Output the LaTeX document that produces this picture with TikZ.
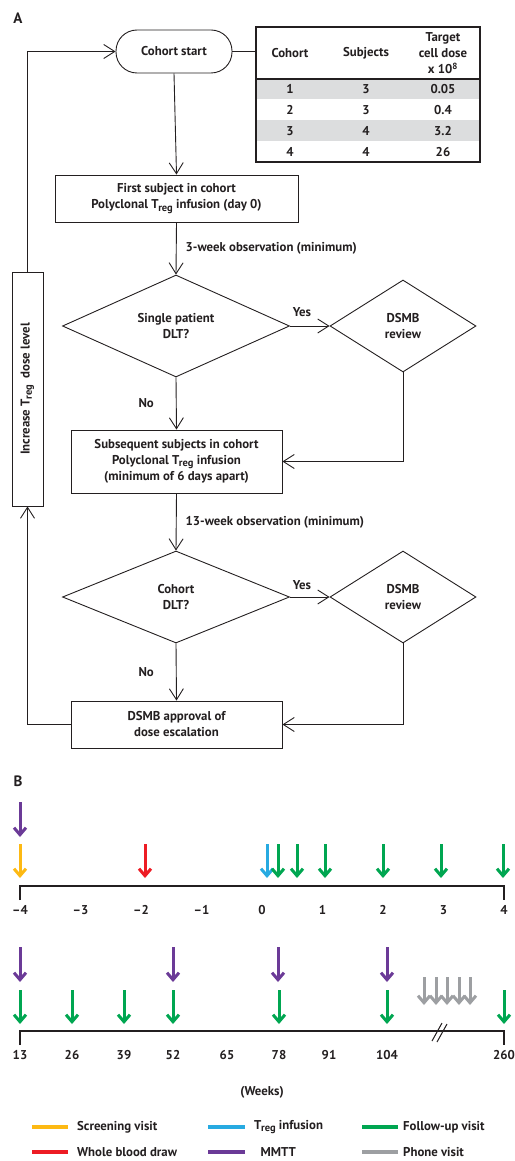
\documentclass[tikz,border=0pt]{standalone}
\usepackage{fontspec}
\setmainfont{PT Sans}
\usetikzlibrary{arrows.meta,shapes.geometric}
\definecolor{cyel}{HTML}{FDB913}
\definecolor{cred}{HTML}{ED1C24}
\definecolor{cblu}{HTML}{27AAE1}
\definecolor{cgrn}{HTML}{00A651}
\definecolor{cpur}{HTML}{6B3A97}
\definecolor{cgry}{HTML}{9D9FA2}
\definecolor{tgray}{HTML}{DCDDDE}
\definecolor{ink}{HTML}{231F20}
\newcommand{\Treg}{T\kern-0.03em\raisebox{-0.35ex}{\fontsize{10.5}{11}\selectfont reg}}
\begin{document}
\begin{tikzpicture}[x=1pt,y=-1pt,
  font=\bfseries\fontsize{12.8}{16}\selectfont, color=ink,
  box/.style={draw=ink, line width=0.9pt, align=center, inner sep=2pt},
  dia/.style={diamond, draw=ink, line width=0.9pt, align=center, inner sep=0pt},
  flow/.style={line width=0.9pt, draw=ink, -{Straight Barb[length=11pt,width=14pt]}},
  plainline/.style={line width=0.9pt, draw=ink},
  tlline/.style={line width=1.3pt, draw=ink},
  evarrow/.style={line width=3pt, -{Straight Barb[length=7pt,width=12pt]}},
  gyarrow/.style={line width=3pt, draw=cgry, -{Straight Barb[length=7pt,width=12pt]}},
  swatch/.style={line width=4pt},
  lbl/.style={inner sep=1pt}
]
\useasboundingbox (0,0) rectangle (514,1161);

% ---------- Panel A ----------
\node[lbl, font=\bfseries\fontsize{15}{16}\selectfont] (labA) at (18,18) {A};

\node[box, rounded corners=21pt, minimum width=116pt, minimum height=43pt] (cs) at (174,51.5) {Cohort start};

% table
\fill[tgray] (256,79) rectangle (480,99);
\fill[tgray] (256,120) rectangle (480,141);
\node[draw=ink, line width=1.4pt, minimum width=224pt, minimum height=135pt, inner sep=0pt] (tab) at (368,94.5) {};
\draw[line width=1.4pt, draw=ink] (tab.west |- 0,79) -- (tab.east |- 0,79);
\node[lbl] (h1) at (290,53) {Cohort};
\node[lbl] (h2) at (366,53) {Subjects};
\node[lbl, align=center] (h3) at (443,53) {Target\\cell dose\\x 10\textsuperscript{8}};
\node[lbl] (r11) at (290,89) {1};   \node[lbl] (r12) at (366,89) {3};   \node[lbl] (r13) at (443,89) {0.05};
\node[lbl] (r21) at (290,110) {2};  \node[lbl] (r22) at (366,110) {3};  \node[lbl] (r23) at (443,110) {0.4};
\node[lbl] (r31) at (290,131) {3};  \node[lbl] (r32) at (366,131) {4};  \node[lbl] (r33) at (443,131) {3.2};
\node[lbl] (r41) at (290,152) {4};  \node[lbl] (r42) at (366,152) {4};  \node[lbl] (r43) at (443,152) {26};

\node[box, minimum width=243pt, minimum height=47pt] (fs) at (176.5,198.5)
  {First subject in cohort\\Polyclonal \Treg{} infusion (day 0)};
\node[dia, minimum width=227pt, minimum height=92pt] (d1) at (176,326) {Single patient\\DLT?};
\node[dia, minimum width=146pt, minimum height=92pt] (r1) at (403,326) {DSMB\\review};
\node[box, minimum width=211pt, minimum height=63pt] (sub) at (176.5,461.5)
  {Subsequent subjects in cohort\\Polyclonal \Treg{} infusion\\(minimum of 6 days apart)};
\node[dia, minimum width=227pt, minimum height=92pt] (d2) at (176,597) {Cohort\\DLT?};
\node[dia, minimum width=146pt, minimum height=92pt] (r2) at (403,597) {DSMB\\review};
\node[box, minimum width=211pt, minimum height=47pt] (app) at (176.5,724.5)
  {DSMB approval of\\dose escalation};
\node[box, rotate=90, minimum width=234pt, minimum height=31pt] (inc) at (27.5,389)
  {Increase \Treg{}\ \ dose level};

\draw[plainline] (cs.east) -- (cs.east -| tab.west);
\draw[flow] (cs.south) -- (fs.north);
\draw[flow] (fs.south) -- node[lbl, anchor=west, xshift=8pt] {3-week observation (minimum)} (d1.north);
\draw[flow] (d1.east) -- node[lbl, pos=0.3, above=8pt] {Yes} (r1.west);
\draw[flow] (d1.south) -- node[lbl, left=21pt] {No} (sub.north);
\draw[flow] (r1.south) |- (sub.east);
\draw[flow] (sub.south) -- node[lbl, anchor=west, xshift=8pt] {13-week observation (minimum)} (d2.north);
\draw[flow] (d2.east) -- node[lbl, pos=0.3, above=6pt] {Yes} (r2.west);
\draw[flow] (d2.south) -- node[lbl, left=21pt] {No} (app.north);
\draw[flow] (r2.south) |- (app.east);
\draw[flow] (app.west) -| (inc.west);
\draw[flow] (inc.east) |- (cs.west);

% ---------- Panel B ----------
\node[lbl, font=\bfseries\fontsize{15}{16}\selectfont] (labB) at (18,781) {B};

% timeline 1
\draw[tlline] (20,900) -- (20,886) -- (504,886) -- (504,900);
\foreach \w/\t in {-4/\textendash4,-3/\textendash3,-2/\textendash2,-1/\textendash1,0/0,1/1,2/2,3/3,4/4}
  \node[lbl] at ({20+(\w+4)*60.5},910) {\t};
\draw[evarrow, cpur] (20,802) -- (20,837);
\draw[evarrow, cyel] (20,844) -- (20,878);
\draw[evarrow, cred] (145,844) -- (145,878);
\draw[evarrow, cblu] (267,844) -- (267,878);
\foreach \x in {278,297,325,383,441,503}
  \draw[evarrow, cgrn] (\x,844) -- (\x,878);

% timeline 2
\draw[tlline] (20,1045) -- (20,1031) -- (504,1031) -- (504,1045);
\draw[line width=1pt, draw=ink] (432,1041) -- (442,1023);
\draw[line width=1pt, draw=ink] (437,1042) -- (447,1024);
\foreach \x/\t in {20/13,72/26,124/39,173/52,227/65,279/78,329/91,387/104,504/260}
  \node[lbl] at (\x,1055) {\t};
\foreach \x in {20,173,278,387}
  \draw[evarrow, cpur] (\x,947) -- (\x,982);
\foreach \x in {20,72,124,173,279,387,504}
  \draw[evarrow, cgrn] (\x,990) -- (\x,1024);
\foreach \x in {424,436,447,459,470}
  \draw[gyarrow] (\x,977) -- (\x,1005);

\node[lbl] (weeks) at (262,1092) {(Weeks)};

% legend
\draw[swatch, cyel] (32,1127) -- (68,1127);
\node[lbl, anchor=west] at (76,1127) {Screening visit};
\draw[swatch, cred] (32,1152) -- (68,1152);
\node[lbl, anchor=west] at (76,1152) {Whole blood draw};
\draw[swatch, cblu] (208,1127) -- (245,1127);
\node[lbl, anchor=west] at (253,1127) {\Treg{} infusion};
\draw[swatch, cpur] (208,1152) -- (245,1152);
\node[lbl, anchor=west] at (253,1152) {\ \ MMTT};
\draw[swatch, cgrn] (362,1127) -- (398,1127);
\node[lbl, anchor=west] at (402,1127) {Follow-up visit};
\draw[swatch, cgry] (362,1152) -- (398,1152);
\node[lbl, anchor=west] at (402,1152) {Phone visit};
\end{tikzpicture}
\end{document}
